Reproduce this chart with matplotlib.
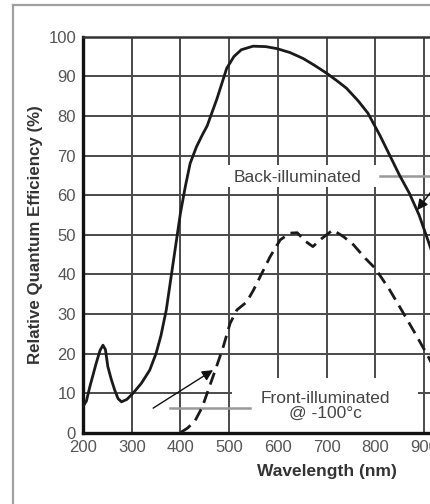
import matplotlib
matplotlib.use("Agg")
import matplotlib.pyplot as plt
from matplotlib.patches import Rectangle
from matplotlib.lines import Line2D

plt.rcParams['font.family'] = ['Liberation Sans', 'DejaVu Sans']

# Back-illuminated (solid)
back_nm = [200, 207, 214, 227, 235, 241, 246, 251, 258, 265, 272, 279, 290, 303, 320, 337,
           350, 360, 371, 380, 390, 400, 410, 420, 433, 445, 455, 475, 495, 510, 525,
           549, 575, 598, 625, 652, 675, 700, 720, 741, 765, 785, 810, 830, 850, 870,
           890, 910, 940]
back_qe = [6.6, 8.0, 11.6, 17.5, 20.8, 22.1, 21.0, 16.7, 13.5, 10.8, 8.6, 7.8, 8.4, 10.0, 12.5, 15.8,
           20.0, 24.5, 31.0, 38.6, 47.0, 55.4, 62.1, 68.0, 72.2, 75.2, 77.5, 84.3, 92.0, 95.0, 96.7,
           97.6, 97.5, 97.0, 96.0, 94.5, 92.8, 90.8, 89.0, 87.0, 83.8, 80.7, 75.0, 70.0, 65.0, 60.5,
           55.0, 48.0, 37.0]

# Front-illuminated @ -100°C (dashed)
front_nm = [400, 415, 430, 445, 455, 465, 475, 488, 502, 516, 536, 550, 567, 584, 605,
            625, 640, 655, 672, 690, 713, 735, 755, 780, 800, 830, 854, 880, 909, 930]
front_qe = [0.0, 1.2, 3.0, 6.5, 10.0, 13.5, 17.0, 21.7, 27.6, 31.0, 33.0, 36.0, 40.2, 44.4, 48.7,
            50.4, 50.5, 48.5, 47.0, 49.0, 51.2, 49.5, 47.5, 44.0, 41.5, 36.0, 31.0, 25.5, 19.2, 14.0]

x_ticks = [200, 300, 400, 500, 600, 700, 800, 900, 1000, 1100, 1200]
y_ticks = [0, 10, 20, 30, 40, 50, 60, 70, 80, 90, 100]

W, H = 430, 504
fig = plt.figure(figsize=(W / 100, H / 100), dpi=100)
left_px, right_px = 83, 83 + 487
top_px, bot_px = 36.7, 432.7
ax = fig.add_axes([left_px / W, 1 - bot_px / H, (right_px - left_px) / W, (bot_px - top_px) / H])
ax.set_xlim(200, 1200)
ax.set_ylim(0, 100)
ax.set_xticks(x_ticks)
ax.set_yticks(y_ticks)
ax.tick_params(length=0, labelsize=12, labelcolor='#555555', pad=5)
ax.grid(True, color='#4a4a4a', lw=1.4, zorder=1)
ax.set_axisbelow(True)
for s in ['left', 'bottom']:
    ax.spines[s].set_linewidth(2.4)
    ax.spines[s].set_color('#111111')
ax.spines['top'].set_linewidth(1.8)
ax.spines['top'].set_color('#333333')
ax.spines['right'].set_linewidth(1.8)
ax.spines['right'].set_color('#333333')

ax.set_xlabel('Wavelength (nm)', fontsize=12.5, fontweight='bold', color='#333333', labelpad=7)
ax.set_ylabel('Relative Quantum Efficiency (%)', fontsize=12.2, fontweight='bold',
              color='#333333', labelpad=4)

# white boxes behind labels (interrupt gridlines)
ax.add_patch(Rectangle((491, 62.0), 319, 5.6, fc='white', ec='none', zorder=2))
ax.add_patch(Rectangle((506, 0.3), 382, 13.5, fc='white', ec='none', zorder=2))

ax.plot(back_nm, back_qe, color='#1a1a1a', lw=2.0, zorder=4)
ax.plot(front_nm, front_qe, color='#1a1a1a', lw=2.0, ls=(0, (4.5, 2.5)), zorder=4)

ax.text(641, 64.5, 'Back-illuminated', ha='center', va='center', fontsize=12.5,
        color='#444444', zorder=5)
ax.text(697, 6.7, 'Front-illuminated\n@ -100°c', ha='center', va='center', fontsize=12.5,
        color='#444444', linespacing=1.0, zorder=5)

# leader lines and arrows
ax.plot([810, 939], [64.8, 64.8], color='#999999', lw=1.8, zorder=3, clip_on=False)
ax.annotate('', xy=(886, 56.2), xytext=(939, 64.8),
            arrowprops=dict(arrowstyle='-|>', color='#111111', lw=1.0,
                            mutation_scale=16, shrinkA=0, shrinkB=0), zorder=6)
ax.plot([379, 543], [6.2, 6.2], color='#999999', lw=1.8, zorder=3)
ax.annotate('', xy=(467, 15.8), xytext=(344, 6.2),
            arrowprops=dict(arrowstyle='-|>', color='#111111', lw=1.0,
                            mutation_scale=16, shrinkA=0, shrinkB=0), zorder=6)

# outer frame
fig.add_artist(Line2D([13 / W, 13 / W], [0, 1 - 5 / H], transform=fig.transFigure,
                      color='#a0a0a0', lw=1.6))
fig.add_artist(Line2D([13 / W, 1], [1 - 5 / H, 1 - 5 / H], transform=fig.transFigure,
                      color='#a0a0a0', lw=1.6))

fig.savefig('out.png', dpi=100)
